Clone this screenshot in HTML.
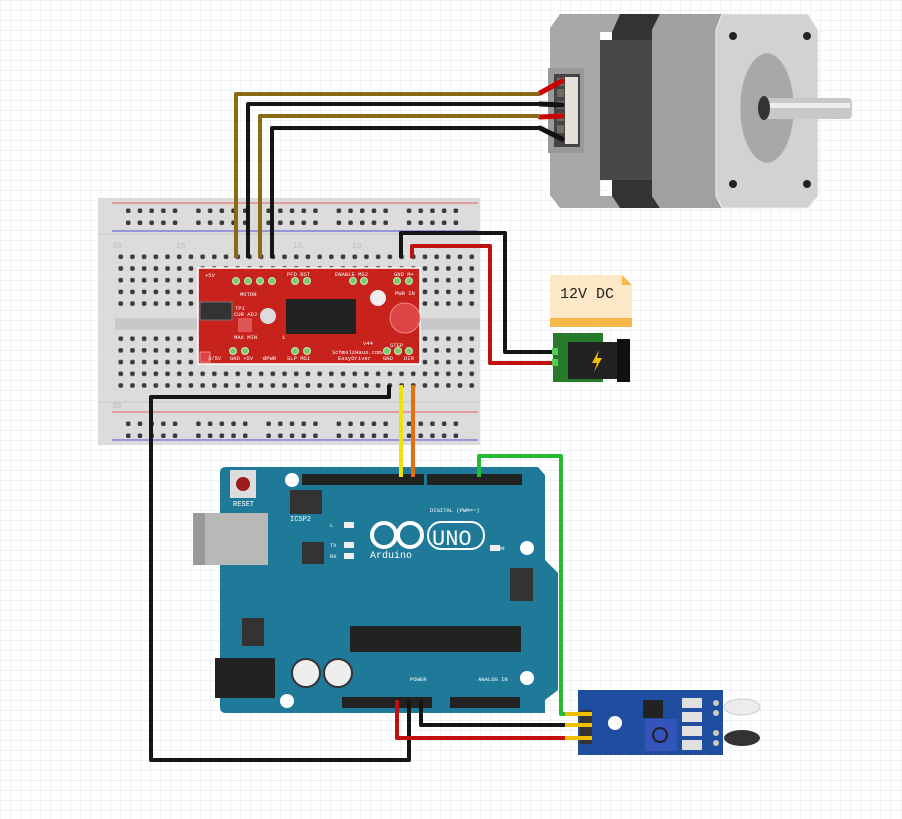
<!DOCTYPE html>
<html><head><meta charset="utf-8"><style>
html,body{margin:0;padding:0;background:#fff}
svg{display:block}
text{font-family:"Liberation Mono",monospace}
</style></head><body>
<svg width="902" height="819" viewBox="0 0 902 819" xmlns="http://www.w3.org/2000/svg">
<defs>
<pattern id="grid" width="10" height="10" patternUnits="userSpaceOnUse"><path d="M10 0H0V10" fill="none" stroke="#dfe4ee" stroke-width="1"/></pattern>
<pattern id="holes" x="115" y="251" width="11.7" height="11.7" patternUnits="userSpaceOnUse"><rect x="3.5" y="3.5" width="4.5" height="4.5" rx="1.5" fill="#3a3a3a"/></pattern>
<pattern id="rail" x="126" y="205" width="70.2" height="12" patternUnits="userSpaceOnUse"><g fill="#3a3a3a"><rect x="0" y="3.5" width="4.5" height="4.5" rx="1.5"/><rect x="11.7" y="3.5" width="4.5" height="4.5" rx="1.5"/><rect x="23.4" y="3.5" width="4.5" height="4.5" rx="1.5"/><rect x="35.1" y="3.5" width="4.5" height="4.5" rx="1.5"/><rect x="46.8" y="3.5" width="4.5" height="4.5" rx="1.5"/></g></pattern>
<pattern id="rail2" x="126" y="418" width="70.2" height="12" patternUnits="userSpaceOnUse"><g fill="#3a3a3a"><rect x="0" y="3.5" width="4.5" height="4.5" rx="1.5"/><rect x="11.7" y="3.5" width="4.5" height="4.5" rx="1.5"/><rect x="23.4" y="3.5" width="4.5" height="4.5" rx="1.5"/><rect x="35.1" y="3.5" width="4.5" height="4.5" rx="1.5"/><rect x="46.8" y="3.5" width="4.5" height="4.5" rx="1.5"/></g></pattern>
</defs>
<rect width="902" height="819" fill="url(#grid)"/>

<!-- breadboard -->
<rect x="98" y="198" width="382" height="247" fill="#dcdcdc"/>
<line x1="112" y1="203" x2="478" y2="203" stroke="#e86060"/>
<line x1="112" y1="231" x2="478" y2="231" stroke="#5050d0"/>
<line x1="112" y1="412" x2="478" y2="412" stroke="#e86060"/>
<line x1="112" y1="440" x2="478" y2="440" stroke="#5050d0"/>
<line x1="98" y1="234" x2="480" y2="234" stroke="#c8c8c8"/>
<line x1="98" y1="402" x2="480" y2="402" stroke="#c8c8c8"/>
<rect x="115" y="318" width="365" height="12" fill="#c8c8c8"/>
<rect x="115" y="251" width="360" height="59" fill="url(#holes)"/>
<rect x="115" y="334" width="360" height="59" fill="url(#holes)"/>
<rect x="120" y="205" width="355" height="24" fill="url(#rail)"/>
<rect x="120" y="418" width="355" height="24" fill="url(#rail2)"/>
<g font-size="8" fill="#bbb" font-family="Liberation Sans"><text x="112" y="248">30</text><text x="176" y="248">25</text><text x="293" y="248">15</text><text x="352" y="248">10</text><text x="112" y="408">30</text></g>

<!-- easydriver -->
<rect x="198" y="268" width="222" height="96" fill="#c8221d" stroke="#fff" stroke-width="1.5"/>
<rect x="200" y="302" width="32" height="18" fill="#333" stroke="#777"/>
<rect x="286" y="299" width="70" height="35" fill="#222"/>
<circle cx="268" cy="316" r="8" fill="#ddd"/>
<circle cx="378" cy="298" r="8" fill="#eee"/>
<circle cx="405" cy="318" r="15" fill="#d44" stroke="#e88"/>
<rect x="238" y="318" width="14" height="14" fill="#d55"/>
<rect x="200" y="352" width="10" height="10" fill="#d44" stroke="#e88"/>
<g font-size="5.5" fill="#fff"><text x="205" y="277">+5V</text><text x="240" y="296">MOTOR</text><text x="287" y="276">PFD RST</text><text x="335" y="276">ENABLE MS2</text><text x="394" y="276">GND M+</text><text x="395" y="295">PWR IN</text><text x="235" y="310">TP1</text><text x="234" y="316">CUR ADJ</text><text x="234" y="339">MAX MIN</text><text x="208" y="360">3/5V</text><text x="230" y="360">GND +5V</text><text x="263" y="360">&#216;PWR</text><text x="287" y="360">SLP MS1</text><text x="332" y="354">SchmalzHaus.com/</text><text x="338" y="360">EasyDriver</text><text x="390" y="347">STEP</text><text x="383" y="360">GND</text><text x="404" y="360">DIR</text><text x="282" y="339">1</text><text x="363" y="345">v44</text></g>
<g fill="#7ccb6a" stroke="#c8e8c0"><circle cx="236" cy="281" r="3.5"/><circle cx="248" cy="281" r="3.5"/><circle cx="260" cy="281" r="3.5"/><circle cx="272" cy="281" r="3.5"/><circle cx="295" cy="281" r="3.5"/><circle cx="307" cy="281" r="3.5"/><circle cx="353" cy="281" r="3.5"/><circle cx="364" cy="281" r="3.5"/><circle cx="397" cy="281" r="3.5"/><circle cx="409" cy="281" r="3.5"/><circle cx="233" cy="351" r="3.5"/><circle cx="245" cy="351" r="3.5"/><circle cx="295" cy="351" r="3.5"/><circle cx="307" cy="351" r="3.5"/><circle cx="387" cy="351" r="3.5"/><circle cx="398" cy="351" r="3.5"/><circle cx="409" cy="351" r="3.5"/></g>

<!-- motor -->
<polygon points="560,14 620,14 612,32 600,32 600,196 612,196 620,208 560,208 550,195 550,28" fill="#a8a8a8"/>
<polygon points="620,14 660,14 652,30 652,196 660,208 620,208 612,196 612,32" fill="#333"/>
<rect x="600" y="40" width="70" height="140" fill="#484848"/>
<rect x="668" y="40" width="5" height="140" fill="#1c1c1c"/>
<polygon points="660,14 722,14 716,30 716,196 722,208 660,208 652,196 652,30" fill="#a0a0a0"/>
<polygon points="722,14 808,14 818,30 818,196 808,208 722,208 716,196 716,30" fill="#d2d2d2" stroke="#eee"/>
<ellipse cx="767" cy="108" rx="27" ry="55" fill="#a8a8a8" stroke="#ccc"/>
<rect x="760" y="98" width="92" height="21" rx="4" fill="#c8c8c8"/>
<rect x="760" y="103" width="90" height="5" fill="#eee"/>
<ellipse cx="764" cy="108" rx="6" ry="12" fill="#333"/>
<g fill="#222"><circle cx="733" cy="36" r="4"/><circle cx="807" cy="36" r="4"/><circle cx="733" cy="184" r="4"/><circle cx="807" cy="184" r="4"/></g>
<rect x="548" y="68" width="36" height="85" fill="#999"/>
<rect x="554" y="74" width="26" height="73" fill="#444"/>
<rect x="565" y="77" width="13" height="67" fill="#e6e2da"/>
<g fill="#756a60"><rect x="557" y="78" width="7" height="8"/><rect x="557" y="89" width="7" height="8"/><rect x="557" y="101" width="7" height="8"/><rect x="557" y="113" width="7" height="8"/><rect x="557" y="125" width="7" height="8"/></g>
<g stroke-width="5" stroke-linecap="round"><line x1="540" y1="93" x2="562" y2="81" stroke="#c00"/><line x1="540" y1="104" x2="562" y2="105" stroke="#111"/><line x1="540" y1="117" x2="562" y2="116" stroke="#c00"/><line x1="540" y1="128" x2="562" y2="139" stroke="#111"/></g>

<!-- motor wires -->
<g fill="none" stroke-width="4" stroke-linejoin="round">
<polyline points="236,258 236,94 540,94" stroke="#8c6a12"/>
<polyline points="248,258 248,104 540,104" stroke="#151515"/>
<polyline points="260,258 260,116 540,116" stroke="#8c6a12"/>
<polyline points="272,258 272,128 540,128" stroke="#151515"/>
</g>

<!-- 12V note & jack -->
<polygon points="550,275 622,275 632,285 632,327 550,327" fill="#fde8c8"/>
<polygon points="622,275 632,285 622,285" fill="#f6b84a"/>
<rect x="550" y="318" width="82" height="9" fill="#f6b84a"/>
<text x="560" y="298" font-family="Liberation Sans" font-size="15" fill="#222">12V DC</text>
<rect x="553" y="333" width="50" height="49" fill="#267a2a"/>
<rect x="568" y="342" width="50" height="37" fill="#222"/>
<rect x="617" y="339" width="13" height="43" fill="#111"/>
<polygon points="599,350 592,363 597,363 594,372 602,358 597,358" fill="#f5c000"/>

<!-- power wires -->
<g fill="none" stroke-width="4" stroke-linejoin="round">
<polyline points="401,258 401,233 505,233 505,352 556,352" stroke="#151515"/>
<polyline points="412,258 412,246 490,246 490,363 556,363" stroke="#c01010"/>
</g>
<rect x="552" y="348" width="6" height="7" fill="#5c5"/><rect x="552" y="359" width="6" height="7" fill="#5c5"/>

<!-- arduino -->
<path d="M226,467 H538 L545,475 V560 L558,573 V690 L545,700 V713 H226 Q220,713 220,707 V473 Q220,467 226,467Z" fill="#1f7a99"/>
<rect x="230" y="470" width="26" height="28" fill="#ddd"/><circle cx="243" cy="484" r="7" fill="#9b1c1c"/>
<text x="233" y="506" font-size="7" fill="#fff">RESET</text>
<rect x="193" y="513" width="75" height="52" fill="#b8b8b8"/><rect x="193" y="513" width="12" height="52" fill="#999"/>
<rect x="290" y="490" width="32" height="24" fill="#333"/><text x="290" y="521" font-size="7" fill="#fff">ICSP2</text>
<rect x="302" y="474" width="122" height="11" fill="#222"/><rect x="427" y="474" width="95" height="11" fill="#222"/>
<rect x="342" y="697" width="90" height="11" fill="#222"/><rect x="450" y="697" width="70" height="11" fill="#222"/>
<rect x="302" y="542" width="22" height="22" fill="#333"/>
<rect x="350" y="626" width="171" height="26" fill="#222"/>
<rect x="510" y="568" width="23" height="33" fill="#333"/>
<rect x="215" y="658" width="60" height="40" fill="#222"/>
<rect x="242" y="618" width="22" height="28" fill="#333"/>
<circle cx="306" cy="673" r="14" fill="#eee" stroke="#333" stroke-width="2"/><circle cx="338" cy="673" r="14" fill="#eee" stroke="#333" stroke-width="2"/>
<g fill="#fff"><circle cx="292" cy="480" r="7"/><circle cx="527" cy="548" r="7"/><circle cx="527" cy="678" r="7"/><circle cx="287" cy="701" r="7"/></g>
<g font-size="5.5" fill="#fff"><text x="430" y="512">DIGITAL (PWM=~)</text><text x="410" y="681">POWER</text><text x="478" y="681">ANALOG IN</text><text x="498" y="550">ON</text><text x="330" y="527">L</text><text x="330" y="547">TX</text><text x="330" y="558">RX</text></g>
<rect x="344" y="522" width="10" height="6" fill="#eee"/><rect x="344" y="542" width="10" height="6" fill="#eee"/><rect x="344" y="553" width="10" height="6" fill="#eee"/><rect x="490" y="545" width="10" height="6" fill="#eee"/>
<circle cx="384" cy="535" r="12" fill="none" stroke="#fff" stroke-width="4"/><circle cx="410" cy="535" r="12" fill="none" stroke="#fff" stroke-width="4"/>
<rect x="428" y="522" width="56" height="27" rx="13" fill="none" stroke="#fff" stroke-width="2"/>
<text x="432" y="545" font-family="Liberation Sans" font-size="22" fill="#fff">UNO</text>
<text x="370" y="558" font-size="10" fill="#fff">Arduino</text>

<!-- wires to arduino -->
<g fill="none" stroke-width="4" stroke-linejoin="round">
<line x1="401" y1="385" x2="401" y2="477" stroke="#f0e010"/>
<line x1="413" y1="385" x2="413" y2="477" stroke="#e07010"/>
<polyline points="479,477 479,456 561,456 561,714 580,714" stroke="#22bb33"/>
<polyline points="389,385 389,397 151,397 151,760 409,760 409,700" stroke="#151515"/>
<polyline points="397,700 397,738 580,738" stroke="#c01010"/>
<polyline points="421,700 421,725 580,725" stroke="#151515"/>
</g>

<!-- sensor -->
<rect x="578" y="690" width="145" height="65" fill="#1f4ea0"/>
<rect x="580" y="710" width="12" height="34" fill="#333"/>
<g stroke="#f0c000" stroke-width="4"><line x1="565" y1="714" x2="592" y2="714"/><line x1="565" y1="725" x2="592" y2="725"/><line x1="565" y1="738" x2="592" y2="738"/></g>
<circle cx="615" cy="723" r="7" fill="#fff"/>
<rect x="643" y="700" width="20" height="18" fill="#222"/>
<rect x="645" y="719" width="32" height="32" fill="#3355bb"/><circle cx="660" cy="735" r="7" fill="none" stroke="#222" stroke-width="2"/>
<g fill="#e0e0e0"><rect x="682" y="698" width="20" height="10"/><rect x="682" y="712" width="20" height="10"/><rect x="682" y="726" width="20" height="10"/><rect x="682" y="740" width="20" height="10"/></g>
<ellipse cx="742" cy="707" rx="18" ry="8" fill="#ececec" stroke="#ccc"/>
<ellipse cx="742" cy="738" rx="18" ry="8" fill="#333"/>
<g fill="#ccb"><circle cx="716" cy="703" r="3"/><circle cx="716" cy="713" r="3"/><circle cx="716" cy="733" r="3"/><circle cx="716" cy="743" r="3"/></g>
</svg>
</body></html>
